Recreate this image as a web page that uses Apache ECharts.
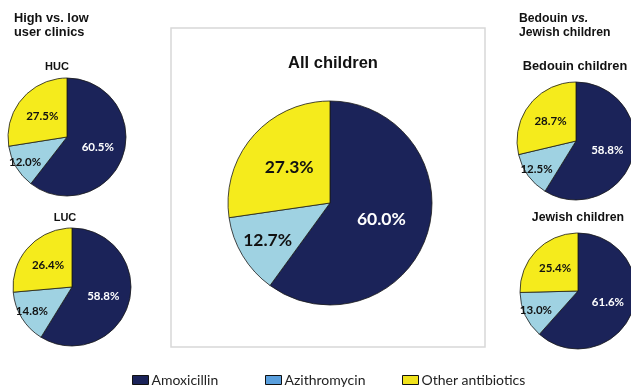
<!DOCTYPE html>
<html>
<head>
<meta charset="utf-8">
<script src="https://cdn.jsdelivr.net/npm/echarts@6/dist/echarts.min.js"></script>
<style>html,body{margin:0;padding:0;background:#fff}#c{width:631px;height:390px}</style>
</head>
<body>
<div id="c"></div>
<script>
// ---- data ----
var categories = ['Amoxicillin', 'Azithromycin', 'Other antibiotics'];
var allChildren = [60.0, 12.7, 27.3];
var hucValues = [60.5, 12.0, 27.5];
var lucValues = [58.8, 14.8, 26.4];
var bedouinValues = [58.8, 12.5, 28.7];
var jewishValues = [61.6, 13.0, 25.4];
var pieTitles = ['All children', 'HUC', 'LUC', 'Bedouin children', 'Jewish children'];
var groupHeaders = ['High vs. low\nuser clinics', 'Bedouin vs.\nJewish children'];

// ---- styles ----
var sliceColors = ['#1b2359', '#9fd2e2', '#f5eb1c'];
var legendColors = ['#1b2359', '#5a9fdd', '#f0e21c'];
var labelColors = ['#ffffff', '#111111', '#111111'];
var legendLefts = [132, 265, 402];

var chart = echarts.init(document.getElementById('c'), null, {renderer: 'canvas'});

function makePie(values, center, radius, fontSize, azFactor) {
  return {
    type: 'pie',
    center: center,
    radius: radius,
    startAngle: 90,
    clockwise: true,
    animation: false,
    silent: true,
    itemStyle: {borderColor: '#1a1a1a', borderWidth: 0.8},
    label: {
      show: true,
      position: 'inside',
      fontFamily: 'Lato',
      fontWeight: 'bold',
      fontSize: fontSize,
      formatter: function (p) { return p.value.toFixed(1) + '%'; }
    },
    labelLine: {show: false},
    labelLayout: function (p) {
      if (p.dataIndex !== 1) return {};
      var r = p.labelRect;
      var cx = r.x + r.width / 2, cy = r.y + r.height / 2;
      var dx = (cx - center[0]) * (azFactor - 1);
      var dy = (cy - center[1]) * (azFactor - 1);
      return {dx: dx, dy: dy};
    },
    data: categories.map(function (n, i) {
      return {
        name: n,
        value: values[i],
        itemStyle: {color: sliceColors[i]},
        label: {color: labelColors[i]}
      };
    })
  };
}

var titleBase = {fontFamily: 'Liberation Sans', fontWeight: 'bold', color: '#111'};

var option = {
  backgroundColor: '#ffffff',
  animation: false,
  title: [
    {text: pieTitles[0], left: 333, top: 55, padding: 0, textAlign: 'center', textStyle: Object.assign({fontSize: 16.5}, titleBase)},
    {text: pieTitles[1], left: 57, top: 61.5, padding: 0, textAlign: 'center', textStyle: Object.assign({fontSize: 11}, titleBase)},
    {text: pieTitles[2], left: 65, top: 212.5, padding: 0, textAlign: 'center', textStyle: Object.assign({fontSize: 11}, titleBase)},
    {text: pieTitles[3], left: 575, top: 59.5, padding: 0, textAlign: 'center', textStyle: Object.assign({fontSize: 12.8}, titleBase)},
    {text: pieTitles[4], left: 578, top: 212, padding: 0, textAlign: 'center', textStyle: Object.assign({fontSize: 12.3}, titleBase)},
    {text: groupHeaders[0], left: 14, top: 11, padding: 0, textStyle: Object.assign({fontSize: 12.8, lineHeight: 14}, titleBase)},
    {
      text: '{b|Bedouin }{i|vs.}\n{b|Jewish children}', left: 519, top: 12, padding: 0,
      textStyle: {
        lineHeight: 14,
        rich: {
          b: Object.assign({fontSize: 12.2, lineHeight: 14}, titleBase),
          i: Object.assign({fontSize: 12.2, lineHeight: 14, fontStyle: 'italic'}, titleBase)
        }
      }
    }
  ],
  graphic: [
    {type: 'rect', shape: {x: 171, y: 28, width: 314, height: 319}, style: {fill: 'none', stroke: '#d8d8d8', lineWidth: 1.5}, silent: true, z: -1}
  ],
  legend: categories.map(function (n, i) {
    return {
      top: 373,
      left: legendLefts[i],
      padding: 0,
      itemWidth: 16,
      itemHeight: 9,
      icon: 'rect',
      selectedMode: false,
      textStyle: {fontFamily: 'Lato', fontSize: 14, color: '#222', padding: [0, 0, 0, -2]},
      data: [{name: n, itemStyle: {color: legendColors[i], borderColor: '#111', borderWidth: 1}}]
    };
  }),
  series: [
    makePie(allChildren, [330, 203], 102, 17.5, 1.35),
    makePie(hucValues, [67, 137], 59, 11.5, 1.5),
    makePie(lucValues, [72, 287], 59, 11.5, 1.45),
    makePie(bedouinValues, [576, 141], 59, 11.5, 1.5),
    makePie(jewishValues, [578, 291], 58, 11.5, 1.45)
  ]
};
chart.setOption(option);
</script>
</body>
</html>
